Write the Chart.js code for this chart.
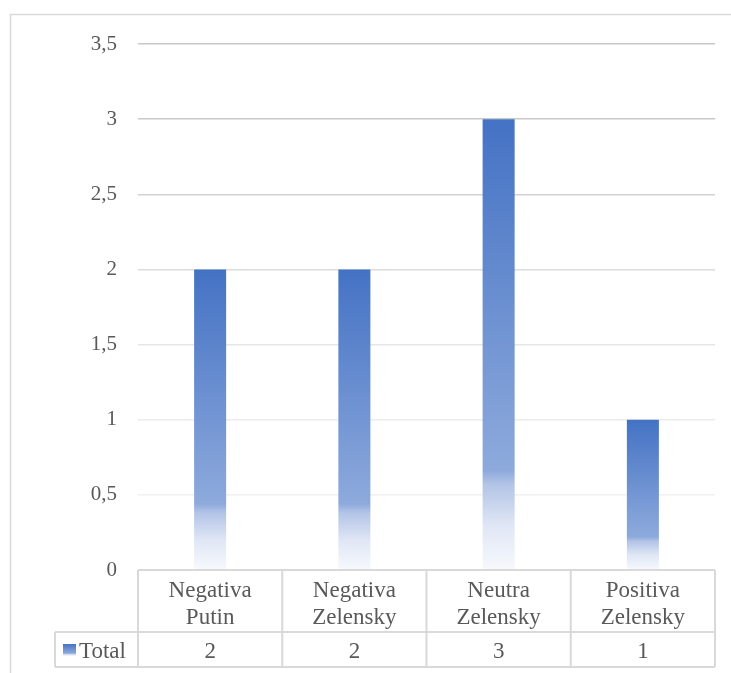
<!DOCTYPE html>
<html>
<head>
<meta charset="utf-8">
<script src="https://cdn.jsdelivr.net/npm/chart.js@4.4.1/dist/chart.umd.min.js"></script>
<style>
  html, body { margin: 0; padding: 0; background: #ffffff; }
  canvas { display: block; }
</style>
</head>
<body>
<canvas id="chart" width="731" height="673"></canvas>
<script>
// values
const categories = [['Negativa', 'Putin'], ['Negativa', 'Zelensky'], ['Neutra', 'Zelensky'], ['Positiva', 'Zelensky']];
const totals = [2, 2, 3, 1];
const seriesName = 'Total';
const yTicks = [0, 0.5, 1, 1.5, 2, 2.5, 3, 3.5];

const textColor = '#595959';
const lineColor = '#d9d9d9';
const serif = '"Liberation Serif", "Times New Roman", serif';

// gridlines fade lighter towards the bottom, like the reference
const gridColors = {
    0: lineColor, 0.5: '#f0f0f0', 1: '#ececec', 1.5: '#e6e6e6',
    2: '#dcdcdc', 2.5: '#d2d2d2', 3: '#c8c8c8', 3.5: '#c8c8c8',
};

const fillGradient = (ctx, top, bottom) => {
    const g = ctx.createLinearGradient(0, top, 0, bottom);
    g.addColorStop(0, '#4472c4');
    g.addColorStop(0.78, '#8eaadc');
    g.addColorStop(0.81, '#b3c4e7');
    g.addColorStop(0.9, '#dfe6f5');
    g.addColorStop(1, '#f7f9fd');
    return g;
};

const barColor = (context) => {
    const chart = context.chart;
    if (!chart.chartArea || context.raw === undefined) {
        return '#4472c4';
    }
    const y = chart.scales.y;
    return fillGradient(chart.ctx, y.getPixelForValue(context.raw), y.getPixelForValue(0));
};

const chartBorder = {
    id: 'chartBorder',
    beforeDraw(chart) {
        const { ctx } = chart;
        ctx.save();
        ctx.strokeStyle = lineColor;
        ctx.lineWidth = 1.5;
        ctx.strokeRect(10.5, 14.5, chart.width + 20, chart.height + 20);
        ctx.restore();
    },
};

const dataTable = {
    id: 'dataTable',
    afterDraw(chart) {
        const { ctx, chartArea } = chart;
        const x = chart.scales.x;
        const step = (chartArea.right - chartArea.left) / categories.length;
        const top = chartArea.bottom;
        const mid = top + 62;
        const bottom = top + 97;
        const legendLeft = 55;

        ctx.save();
        ctx.strokeStyle = lineColor;
        ctx.lineWidth = 2;
        ctx.beginPath();
        ctx.moveTo(chartArea.left, top);
        ctx.lineTo(chartArea.right, top);
        ctx.moveTo(legendLeft, mid);
        ctx.lineTo(chartArea.right, mid);
        ctx.moveTo(legendLeft, bottom);
        ctx.lineTo(chartArea.right, bottom);
        ctx.moveTo(legendLeft, mid);
        ctx.lineTo(legendLeft, bottom);
        for (let i = 0; i <= categories.length; i++) {
            const px = chartArea.left + i * step;
            ctx.moveTo(px, top);
            ctx.lineTo(px, bottom);
        }
        ctx.stroke();

        ctx.fillStyle = textColor;
        ctx.font = `23px ${serif}`;
        ctx.textAlign = 'center';
        ctx.textBaseline = 'alphabetic';
        categories.forEach((lines, i) => {
            const cx = x.getPixelForValue(i);
            lines.forEach((line, j) => ctx.fillText(line, cx, top + 27 + j * 27));
            ctx.fillText(String(totals[i]), cx, bottom - 9);
        });

        // legend key + series name
        ctx.fillStyle = fillGradient(ctx, mid + 12, mid + 24);
        ctx.fillRect(63, mid + 12, 13, 12);
        ctx.fillStyle = textColor;
        ctx.textAlign = 'left';
        ctx.fillText(seriesName, 79, bottom - 9);
        ctx.restore();
    },
};

new Chart(document.getElementById('chart'), {
    type: 'bar',
    data: {
        labels: categories,
        datasets: [{
            label: seriesName,
            data: totals,
            backgroundColor: barColor,
            borderWidth: 0,
            barPercentage: 0.222,
            categoryPercentage: 1,
        }],
    },
    options: {
        responsive: false,
        animation: false,
        layout: { padding: { left: 10, right: 16, top: 44, bottom: 103 } },
        plugins: {
            legend: { display: false },
            tooltip: { enabled: false },
        },
        scales: {
            x: {
                display: false,
            },
            y: {
                min: 0,
                max: 3.5,
                afterFit: (scale) => { scale.width = 128; },
                afterBuildTicks: (scale) => { scale.ticks = yTicks.map((v) => ({ value: v })); },
                border: { display: false },
                grid: {
                    drawTicks: false,
                    lineWidth: 1.5,
                    color: (c) => gridColors[c.tick.value] || lineColor,
                },
                ticks: {
                    padding: 21,
                    color: textColor,
                    font: { family: serif, size: 21 },
                    callback: (v) => String(v).replace('.', ','),
                },
            },
        },
    },
    plugins: [chartBorder, dataTable],
});
</script>
</body>
</html>
